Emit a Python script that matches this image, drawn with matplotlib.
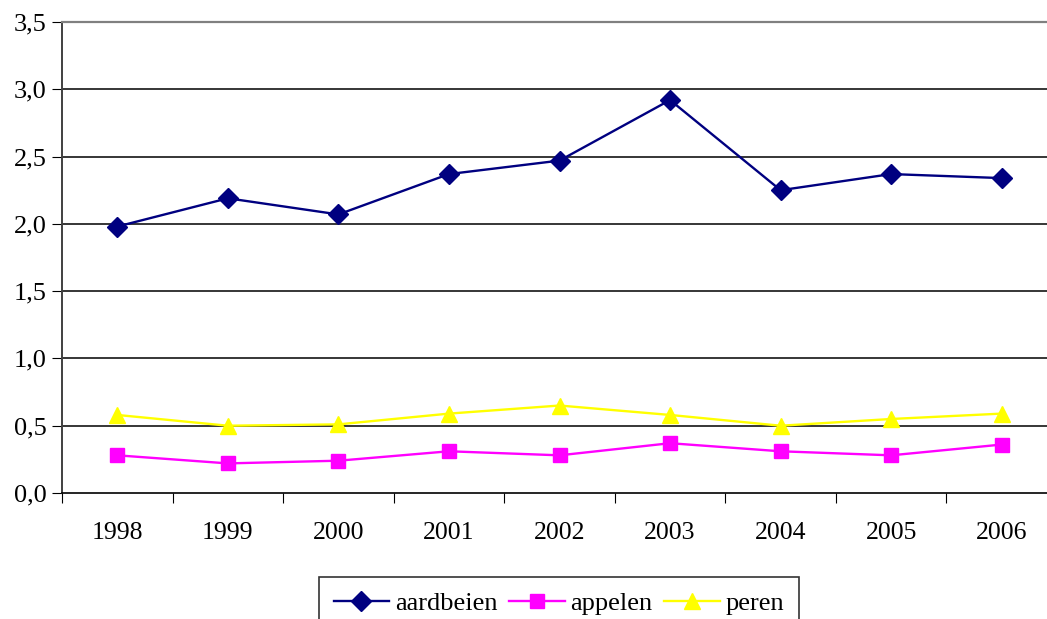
import matplotlib
matplotlib.use('Agg')
import matplotlib.pyplot as plt
import numpy as np

# Data
years = ['1998', '1999', '2000', '2001', '2002', '2003', '2004', '2005', '2006']
aardbeien = [1.98, 2.19, 2.07, 2.37, 2.47, 2.92, 2.25, 2.37, 2.34]
appelen = [0.28, 0.22, 0.24, 0.31, 0.28, 0.37, 0.31, 0.28, 0.36]
peren = [0.58, 0.50, 0.51, 0.59, 0.65, 0.58, 0.50, 0.55, 0.59]
y_ticks = [0.0, 0.5, 1.0, 1.5, 2.0, 2.5, 3.0, 3.5]

plt.rcParams['font.family'] = ['Liberation Serif', 'DejaVu Serif']

W, H = 1047, 619
fig = plt.figure(figsize=(W / 100, H / 100), dpi=100)
# plot area runs past the right edge of the picture
ax = fig.add_axes([62 / W, (H - 493) / H, (1057 - 62) / W, (493 - 22) / H])

x = np.arange(len(years))

# Horizontal grid lines
for v in y_ticks[1:-1]:
    ax.axhline(v, color='black', linewidth=1.1, zorder=1)

ax.plot(x, aardbeien, color='#000080', marker='D', markersize=10, linewidth=1.7,
        label='aardbeien', zorder=3)
ax.plot(x, appelen, color='#FF00FF', marker='s', markersize=10, linewidth=1.7,
        label='appelen', zorder=3)
ax.plot(x, peren, color='#FFFF00', marker='^', markersize=12, linewidth=1.7,
        label='peren', zorder=3)

ax.set_xlim(-0.5, len(years) - 0.5)
ax.set_ylim(0, 3.5)

ax.set_yticks(y_ticks)
ax.set_yticklabels([('%.1f' % v).replace('.', ',') for v in y_ticks], fontsize=19)

# category ticks between the years, labels centered on the years
ax.set_xticks(np.arange(-0.5, len(years), 1.0))
ax.set_xticklabels([])
ax.set_xticks(x, minor=True)
ax.set_xticklabels(years, minor=True, fontsize=18.5)
ax.tick_params(axis='x', which='minor', length=0, pad=21)
ax.tick_params(axis='x', which='major', direction='out', length=7, color='black')
ax.tick_params(axis='y', direction='out', length=7, color='black', pad=4)

ax.spines['left'].set_color('#404040')
ax.spines['left'].set_linewidth(1.4)
ax.spines['bottom'].set_color('black')
ax.spines['bottom'].set_linewidth(1.2)
ax.spines['top'].set_color('#808080')
ax.spines['top'].set_linewidth(1.6)
ax.spines['right'].set_visible(False)

leg = fig.legend(loc='upper center', bbox_to_anchor=(559 / W, (H - 577) / H), ncol=3,
                 fontsize=19, frameon=True, fancybox=False, edgecolor='black',
                 handlelength=2.1, columnspacing=0.45, handletextpad=0.22,
                 borderpad=0.55, borderaxespad=0)
leg.get_frame().set_linewidth(1.2)

fig.savefig('out.png', dpi=100)
